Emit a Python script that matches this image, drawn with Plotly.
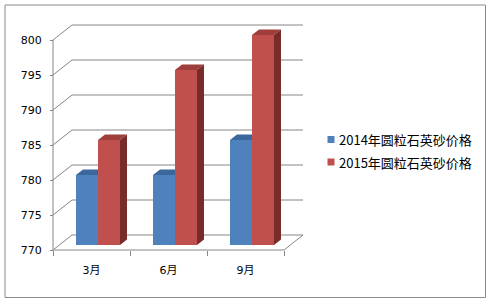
import plotly.graph_objects as go

# ---------------- data ----------------
categories = ["3月", "6月", "9月"]
series_names = ["2014年圆粒石英砂价格", "2015年圆粒石英砂价格"]
values_2014 = [780, 780, 785]
values_2015 = [785, 795, 800]
y_ticks = [770, 775, 780, 785, 790, 795, 800]

# ---------------- styles ----------------
front_colors = ["#4F81BD", "#C0504D"]
top_colors = ["#3C679C", "#9E3F3C"]
side_colors = ["#2F5280", "#772C2A"]
grid_color = "#868686"

W, H = 490, 304
ML, MR, MT, MB = 48, 183, 19, 47
PW, PH = W - ML - MR, H - MT - MB
PX_X = 77.0   # pixels per category
PX_Y = 7.0    # pixels per value unit
Y_MIN_TICK = y_ticks[0]
Y_MAX_TICK = y_ticks[-1]
X0_FRONT = -0.5
X1_FRONT = len(categories) - 0.5

x_min = X0_FRONT - 5 / PX_X
x_range = [x_min, x_min + PW / PX_X]
y_min = Y_MIN_TICK - 7 / PX_Y
y_range = [y_min, y_min + PH / PX_Y]


def ddx(px):
    return px / PX_X


def ddy(px):
    return px / PX_Y


BACK = (ddx(19), ddy(15))        # back wall offset
BARPLANE = (ddx(6.5), ddy(5))    # bar front-face plane offset
DEPTH = (ddx(7), ddy(5.5))       # bar depth
BAR_W = ddx(22)


def px_to_paper(px, py):
    return (px - ML) / PW, 1 - (py - MT) / PH


fig = go.Figure()

series = [values_2014, values_2015]
base = Y_MIN_TICK + BARPLANE[1]

# front faces as bars
for s, vals in enumerate(series):
    xs = [i + BARPLANE[0] + (s - 0.5) * BAR_W for i in range(len(categories))]
    fig.add_trace(go.Bar(
        x=xs, y=[v - base + BARPLANE[1] for v in vals], base=base,
        width=BAR_W, marker=dict(color=front_colors[s], line=dict(width=0)),
        name=series_names[s], showlegend=False, hoverinfo="skip"))


def poly(xs, ys, color):
    fig.add_trace(go.Scatter(
        x=xs + [xs[0]], y=ys + [ys[0]], mode="lines", fill="toself",
        fillcolor=color, line=dict(width=0), showlegend=False,
        hoverinfo="skip"))


# top and side faces
for i in range(len(categories)):
    for s, vals in enumerate(series):
        t = vals[i] + BARPLANE[1]
        x0 = i + BARPLANE[0] + (s - 1) * BAR_W
        x1 = x0 + BAR_W
        dxp, dyp = DEPTH
        nxt = series[s + 1][i] + BARPLANE[1] if s + 1 < len(series) else None
        if nxt is not None and nxt >= t + dyp:
            # right part hidden behind neighbouring taller bar
            poly([x0, x1, x1, x0 + dxp], [t, t, t + dyp, t + dyp], top_colors[s])
        else:
            poly([x0, x1, x1 + dxp, x0 + dxp], [t, t, t + dyp, t + dyp], top_colors[s])
            if nxt is None:
                poly([x1, x1, x1 + dxp, x1 + dxp],
                     [base, t, t + dyp, base + dyp], side_colors[s])

shapes = []
line = dict(color=grid_color, width=1)
for v in y_ticks:
    shapes.append(dict(type="line", xref="x", yref="y", layer="below",
                       x0=X0_FRONT + BACK[0], x1=X1_FRONT + BACK[0],
                       y0=v + BACK[1], y1=v + BACK[1], line=line))
    shapes.append(dict(type="line", xref="x", yref="y", layer="below",
                       x0=X0_FRONT, x1=X0_FRONT + BACK[0],
                       y0=v, y1=v + BACK[1], line=line))
# floor right edge, front edge, vertical axis line
shapes.append(dict(type="line", xref="x", yref="y", layer="below",
                   x0=X1_FRONT, x1=X1_FRONT + BACK[0],
                   y0=Y_MIN_TICK, y1=Y_MIN_TICK + BACK[1], line=line))
shapes.append(dict(type="line", xref="x", yref="y", layer="below",
                   x0=X0_FRONT, x1=X1_FRONT,
                   y0=Y_MIN_TICK, y1=Y_MIN_TICK, line=line))
shapes.append(dict(type="line", xref="x", yref="y", layer="below",
                   x0=X0_FRONT, x1=X0_FRONT,
                   y0=Y_MIN_TICK, y1=Y_MAX_TICK, line=line))

# chart border
bx0, by0 = px_to_paper(5, 5)
bx1, by1 = px_to_paper(485.5, 297.5)
shapes.append(dict(type="rect", xref="paper", yref="paper",
                   x0=bx0, y0=by0, x1=bx1, y1=by1,
                   line=dict(color="#8C8C8C", width=1)))

# legend
annotations = []
legend_rows = [139.5, 162]
for s, py in enumerate(legend_rows):
    sx0, sy0 = px_to_paper(327.5, py - 3.5)
    sx1, sy1 = px_to_paper(334.5, py + 3.5)
    shapes.append(dict(type="rect", xref="paper", yref="paper",
                       x0=sx0, y0=sy0, x1=sx1, y1=sy1,
                       fillcolor=front_colors[s], line=dict(width=0)))
    ax, ay = px_to_paper(337, py)
    annotations.append(dict(xref="paper", yref="paper", x=ax, y=ay,
                            xanchor="left", yanchor="middle", showarrow=False,
                            text=series_names[s],
                            font=dict(family="Noto Sans CJK SC", size=13,
                                      color="#000000")))

x_axis_pos = (Y_MIN_TICK - y_range[0]) / (y_range[1] - y_range[0])
y_axis_pos = (X0_FRONT - x_range[0]) / (x_range[1] - x_range[0])

fig.update_layout(
    width=W, height=H,
    margin=dict(l=ML, r=MR, t=MT, b=MB, pad=0),
    paper_bgcolor="white", plot_bgcolor="white",
    barmode="overlay", showlegend=False,
    shapes=shapes, annotations=annotations,
    xaxis=dict(range=x_range, anchor="free", position=x_axis_pos,
               tickmode="array", tickvals=list(range(len(categories))),
               ticktext=categories, ticks="", showgrid=False,
               zeroline=False, showline=False, ticklabelstandoff=12,
               tickfont=dict(family="DejaVu Sans, Noto Sans CJK SC",
                             size=11, color="#000000"),
               minor=dict(tickmode="array",
                          tickvals=[i - 0.5 for i in range(len(categories) + 1)],
                          ticks="outside", ticklen=5, tickcolor=grid_color,
                          showgrid=False)),
    yaxis=dict(range=y_range, anchor="free", position=y_axis_pos,
               tickmode="array", tickvals=y_ticks, ticks="outside",
               ticklen=3, tickcolor=grid_color, showgrid=False,
               zeroline=False, showline=False, ticklabelstandoff=6,
               tickfont=dict(family="DejaVu Sans", size=11, color="#000000")),
)

fig.write_html("out.html")
